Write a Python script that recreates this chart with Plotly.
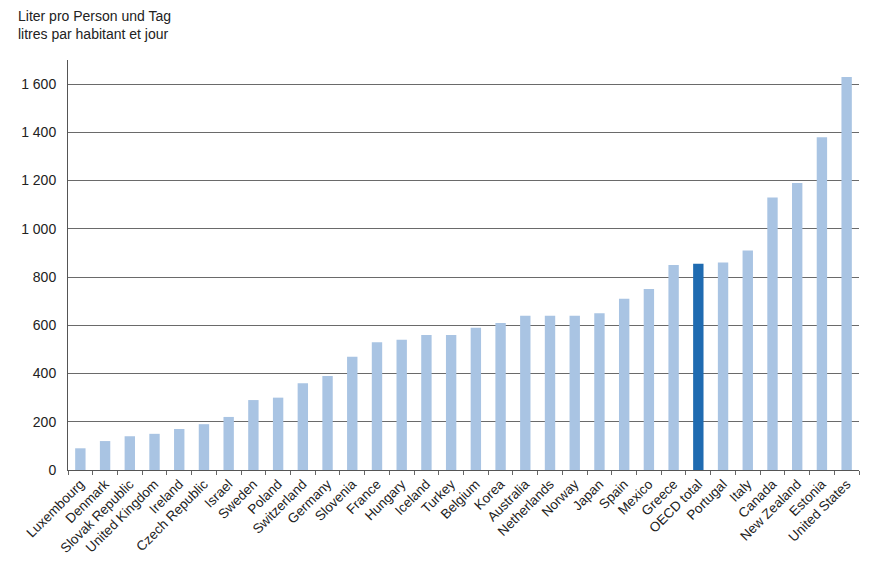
import plotly.graph_objects as go

countries = ["Luxembourg", "Denmark", "Slovak Republic", "United Kingdom", "Ireland",
             "Czech Republic", "Israel", "Sweden", "Poland", "Switzerland", "Germany",
             "Slovenia", "France", "Hungary", "Iceland", "Turkey", "Belgium", "Korea",
             "Australia", "Netherlands", "Norway", "Japan", "Spain", "Mexico", "Greece",
             "OECD total", "Portugal", "Italy", "Canada", "New Zealand", "Estonia",
             "United States"]
values = [90, 120, 140, 150, 170, 190, 220, 290, 300, 360, 390, 470, 530, 540, 560,
          560, 590, 610, 640, 640, 640, 650, 710, 750, 850, 855, 860, 910, 1130, 1190,
          1380, 1630]
y_tickvals = [0, 200, 400, 600, 800, 1000, 1200, 1400, 1600]
y_ticktext = ["0", "200", "400", "600", "800", "1 000", "1 200", "1 400", "1 600"]

light = "#A9C4E3"
dark = "#1F6BB1"
colors = [dark if c == "OECD total" else light for c in countries]

fig = go.Figure(go.Bar(x=countries, y=values, marker=dict(color=colors, line=dict(width=0)),
                       width=0.42))

fig.update_layout(
    width=873, height=564,
    margin=dict(l=60, r=22, t=52, b=102),
    plot_bgcolor="white", paper_bgcolor="white",
    font=dict(family="Liberation Sans, Arial, sans-serif", size=14, color="#222222"),
    showlegend=False,
)
fig.update_xaxes(
    type="category", tickangle=-45, tickson="boundaries", ticks="outside", ticklen=4,
    tickcolor="#666666", showline=True, linecolor="#555555", linewidth=1,
    showgrid=False, automargin=False, tickfont=dict(size=13.5, color="#222222"),
    range=[-0.5, 31.5],
)
fig.update_yaxes(
    range=[0, 1700], tickvals=y_tickvals, ticktext=y_ticktext, showgrid=True,
    gridcolor="#6a6a6a", gridwidth=1, showline=True, linecolor="#555555", linewidth=1,
    ticks="", zeroline=False, automargin=False, tickfont=dict(size=14, color="#222222"),
    ticklabelstandoff=8,
)
fig.add_annotation(text="Liter pro Person und Tag<br>litres par habitant et jour",
                   xref="paper", yref="paper", x=-0.066, y=1.0, xanchor="left",
                   yanchor="top", yshift=54, align="left", showarrow=False,
                   font=dict(size=14, color="#222222"))

fig.write_html("out.html")
